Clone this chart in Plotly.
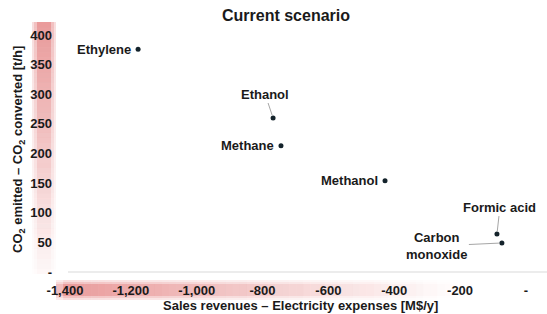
import plotly.graph_objects as go

products = ["Ethylene", "Ethanol", "Methane", "Methanol", "Formic acid", "Carbon monoxide"]
x_vals = [-1178, -768, -744, -428, -88, -73]
y_vals = [376, 260, 213, 154, 64, 49]

x_ticks = [-1400, -1200, -1000, -800, -600, -400, -200, 0]
x_ticktext = ["-1,400", "-1,200", "-1,000", "-800", "-600", "-400", "-200", "-"]
y_ticks = [0, 50, 100, 150, 200, 250, 300, 350, 400]
y_ticktext = ["-", "50", "100", "150", "200", "250", "300", "350", "400"]

W, H = 547, 314
L, R, T, B = 65, 0, 25, 42
PW, PH = W - L - R, H - T - B

def px(xp):
    return (xp - L) / PW

def py(yp):
    return (H - B - yp) / PH

FONT = "Liberation Sans, Arial, sans-serif"
TXT = "#1a1a1a"

fig = go.Figure()
fig.add_trace(go.Scatter(
    x=x_vals, y=y_vals, mode="markers",
    marker=dict(size=5, color="#14232b"),
    hoverinfo="text", text=products, showlegend=False,
))

shapes = []
# vertical gradient band behind y tick labels
N = 50
top, bot = 22, 274
for i in range(N):
    y0 = top + (bot - top) * i / N
    y1 = top + (bot - top) * (i + 1) / N
    a = 0.58 * (1 - i / N) ** 1.1 + 0.03
    for (xa, xb, f) in [(32, 56, 0.3), (34, 54, 0.3), (37, 51, 0.5)]:
        shapes.append(dict(type="rect", xref="paper", yref="paper",
                           x0=px(xa), x1=px(xb), y0=py(y1), y1=py(y0),
                           fillcolor="rgb(215,70,70)", opacity=a * f,
                           line=dict(width=0), layer="below"))
# horizontal gradient band behind x tick labels
N = 60
left, right = 56, 480
for i in range(N):
    x0 = left + (right - left) * i / N
    x1 = left + (right - left) * (i + 1) / N
    a = 0.62 * (1 - i / N) ** 1.3
    if i == 0:
        a *= 0.6
    for (ya, yb, f) in [(280, 300, 0.3), (282, 298, 0.3), (284, 296, 0.5)]:
        shapes.append(dict(type="rect", xref="paper", yref="paper",
                           x0=px(x0), x1=px(x1), y0=py(yb), y1=py(ya),
                           fillcolor="rgb(215,70,70)", opacity=a * f,
                           line=dict(width=0), layer="below"))
# x axis line at y = 0
shapes.append(dict(type="line", xref="paper", yref="paper", x0=px(68), x1=1,
                   y0=0, y1=0, line=dict(color="#d9d9d9", width=1), layer="below"))

annotations = []
lab_font = dict(family=FONT, size=13, color=TXT, weight="bold")
# Ethylene, Methane, Methanol: label to the left
for idx in [0, 2, 3]:
    annotations.append(dict(x=x_vals[idx], y=y_vals[idx], text=products[idx],
                            showarrow=False, xanchor="right", yanchor="middle",
                            xshift=-5, font=lab_font))
# with leader lines
leaders = {1: ("Ethanol", -8, -24), 4: ("Formic acid", 3, -27), 5: ("Carbon<br>monoxide", -65, 3)}
for idx, (t, ax, ay) in leaders.items():
    annotations.append(dict(x=x_vals[idx], y=y_vals[idx], text=t, showarrow=True,
                            ax=ax, ay=ay, arrowhead=0, arrowwidth=1,
                            arrowcolor="#a6a6a6", standoff=3, font=lab_font))
# axis titles
annotations.append(dict(xref="paper", yref="paper", x=px(300), y=py(305),
                        text="Sales revenues – Electricity expenses [M$/y]",
                        showarrow=False, xanchor="center", yanchor="middle",
                        font=lab_font))
annotations.append(dict(xref="paper", yref="paper", x=px(18), y=py(150),
                        text="CO<sub>2</sub> emitted – CO<sub>2</sub> converted [t/h]",
                        showarrow=False, xanchor="center", yanchor="middle",
                        textangle=-90, font=lab_font))

fig.update_layout(
    width=W, height=H,
    margin=dict(l=L, r=R, t=T, b=B, autoexpand=False),
    paper_bgcolor="white", plot_bgcolor="white",
    font=dict(family=FONT, color=TXT),
    title=dict(text="Current scenario", x=286 / W, xanchor="center",
               y=1 - 15 / H, yanchor="middle",
               font=dict(family=FONT, size=16, color=TXT, weight="bold")),
    shapes=shapes,
    annotations=annotations,
    xaxis=dict(range=[-1400, 64], tickvals=x_ticks, ticktext=x_ticktext,
               showgrid=False, zeroline=False, showline=False, ticks="",
               automargin=False,
               tickfont=dict(family=FONT, size=13, color=TXT, weight="bold"),
               ticklabelstandoff=9),
    yaxis=dict(range=[0, 417], tickvals=y_ticks, ticktext=y_ticktext,
               showgrid=False, zeroline=False, showline=False, ticks="",
               automargin=False,
               tickfont=dict(family=FONT, size=13, color=TXT, weight="bold"),
               ticklabelstandoff=12),
)

fig.write_html("out.html", config={"displayModeBar": False},
               post_script="document.body.style.margin='0';document.body.style.overflow='hidden';")
